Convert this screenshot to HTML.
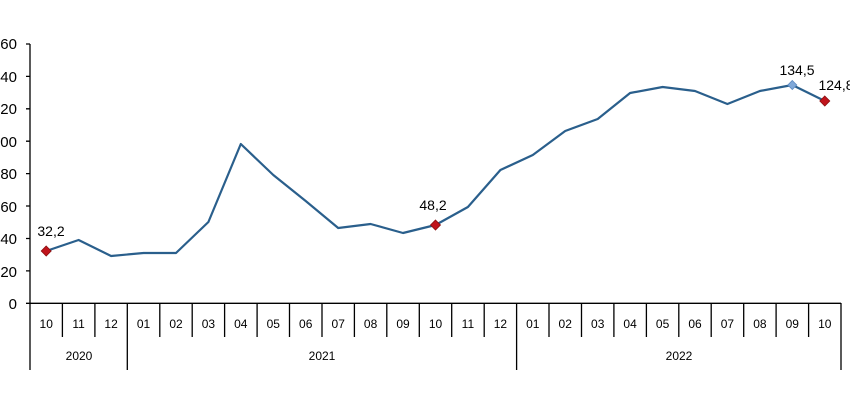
<!DOCTYPE html>
<html><head><meta charset="utf-8"><style>body{margin:0;background:#fff}svg{display:block}text{font-family:"Liberation Sans",Arial,sans-serif;fill:#000}</style></head><body>
<svg width="850" height="400" xmlns="http://www.w3.org/2000/svg">
<g font-size="15" text-anchor="end">
<text x="17" y="49">160</text><text x="17" y="82">140</text><text x="17" y="114">120</text><text x="17" y="147">100</text><text x="17" y="179">80</text><text x="17" y="212">60</text><text x="17" y="244">40</text><text x="17" y="277">20</text><text x="17" y="309">0</text>
</g>
<g stroke="#000" stroke-width="1.3" fill="none">
<path d="M30 44V303M26 44H30M26 76.4H30M26 108.8H30M26 141.2H30M26 173.6H30M26 206H30M26 238.5H30M26 270.9H30M26 303.3H30M30 303.3H841"/>
<path d="M62.4 303V337M94.9 303V337M159.8 303V337M192.2 303V337M224.6 303V337M257.1 303V337M289.5 303V337M322 303V337M354.4 303V337M386.8 303V337M419.3 303V337M451.7 303V337M484.2 303V337M549 303V337M581.5 303V337M613.9 303V337M646.4 303V337M678.8 303V337M711.2 303V337M743.7 303V337M776.1 303V337M808.6 303V337"/>
<path d="M30 303V370M127.3 303V370M516.6 303V370M841 303V370"/>
</g>
<g font-size="12" text-anchor="middle">
<text x="46.2" y="328">10</text><text x="78.6" y="328">11</text><text x="111.1" y="328">12</text><text x="143.5" y="328">01</text><text x="176" y="328">02</text><text x="208.4" y="328">03</text><text x="240.8" y="328">04</text><text x="273.3" y="328">05</text><text x="305.7" y="328">06</text><text x="338.2" y="328">07</text><text x="370.6" y="328">08</text><text x="403" y="328">09</text><text x="435.5" y="328">10</text><text x="467.9" y="328">11</text><text x="500.4" y="328">12</text><text x="532.8" y="328">01</text><text x="565.2" y="328">02</text><text x="597.7" y="328">03</text><text x="630.1" y="328">04</text><text x="662.6" y="328">05</text><text x="695" y="328">06</text><text x="727.4" y="328">07</text><text x="759.9" y="328">08</text><text x="792.3" y="328">09</text><text x="824.8" y="328">10</text>
<text x="79" y="360">2020</text><text x="322" y="360">2021</text><text x="679" y="360">2022</text>
</g>
<polyline fill="none" stroke="#2a5f8c" stroke-width="2.2" stroke-linejoin="round" points="46.2,251 78.6,240 111.1,256 143.5,253 176,253 208.4,222 240.8,144 273.3,175 305.7,201 338.2,228 370.6,224 403,233 435.5,225 467.9,207 500.4,170 532.8,155 565.2,131 597.7,119 630.1,93 662.6,87 695,91 727.4,104 759.9,91 792.3,85 824.8,101"/>
<g fill="#c0141c" stroke="#8a1010" stroke-width="0.8">
<path d="M46.2 246l5 5-5 5-5-5z"/><path d="M435.5 220l5 5-5 5-5-5z"/><path d="M824.8 96l5 5-5 5-5-5z"/>
</g>
<path d="M792.3 80.5l4.5 4.5-4.5 4.5-4.5-4.5z" fill="#7fa8d8" stroke="#5a88c0" stroke-width="0.8"/>
<g font-size="14" text-anchor="middle">
<text x="51" y="236">32,2</text><text x="433" y="210">48,2</text><text x="797" y="75">134,5</text><text x="836" y="90">124,8</text>
</g>
</svg>
</body></html>
